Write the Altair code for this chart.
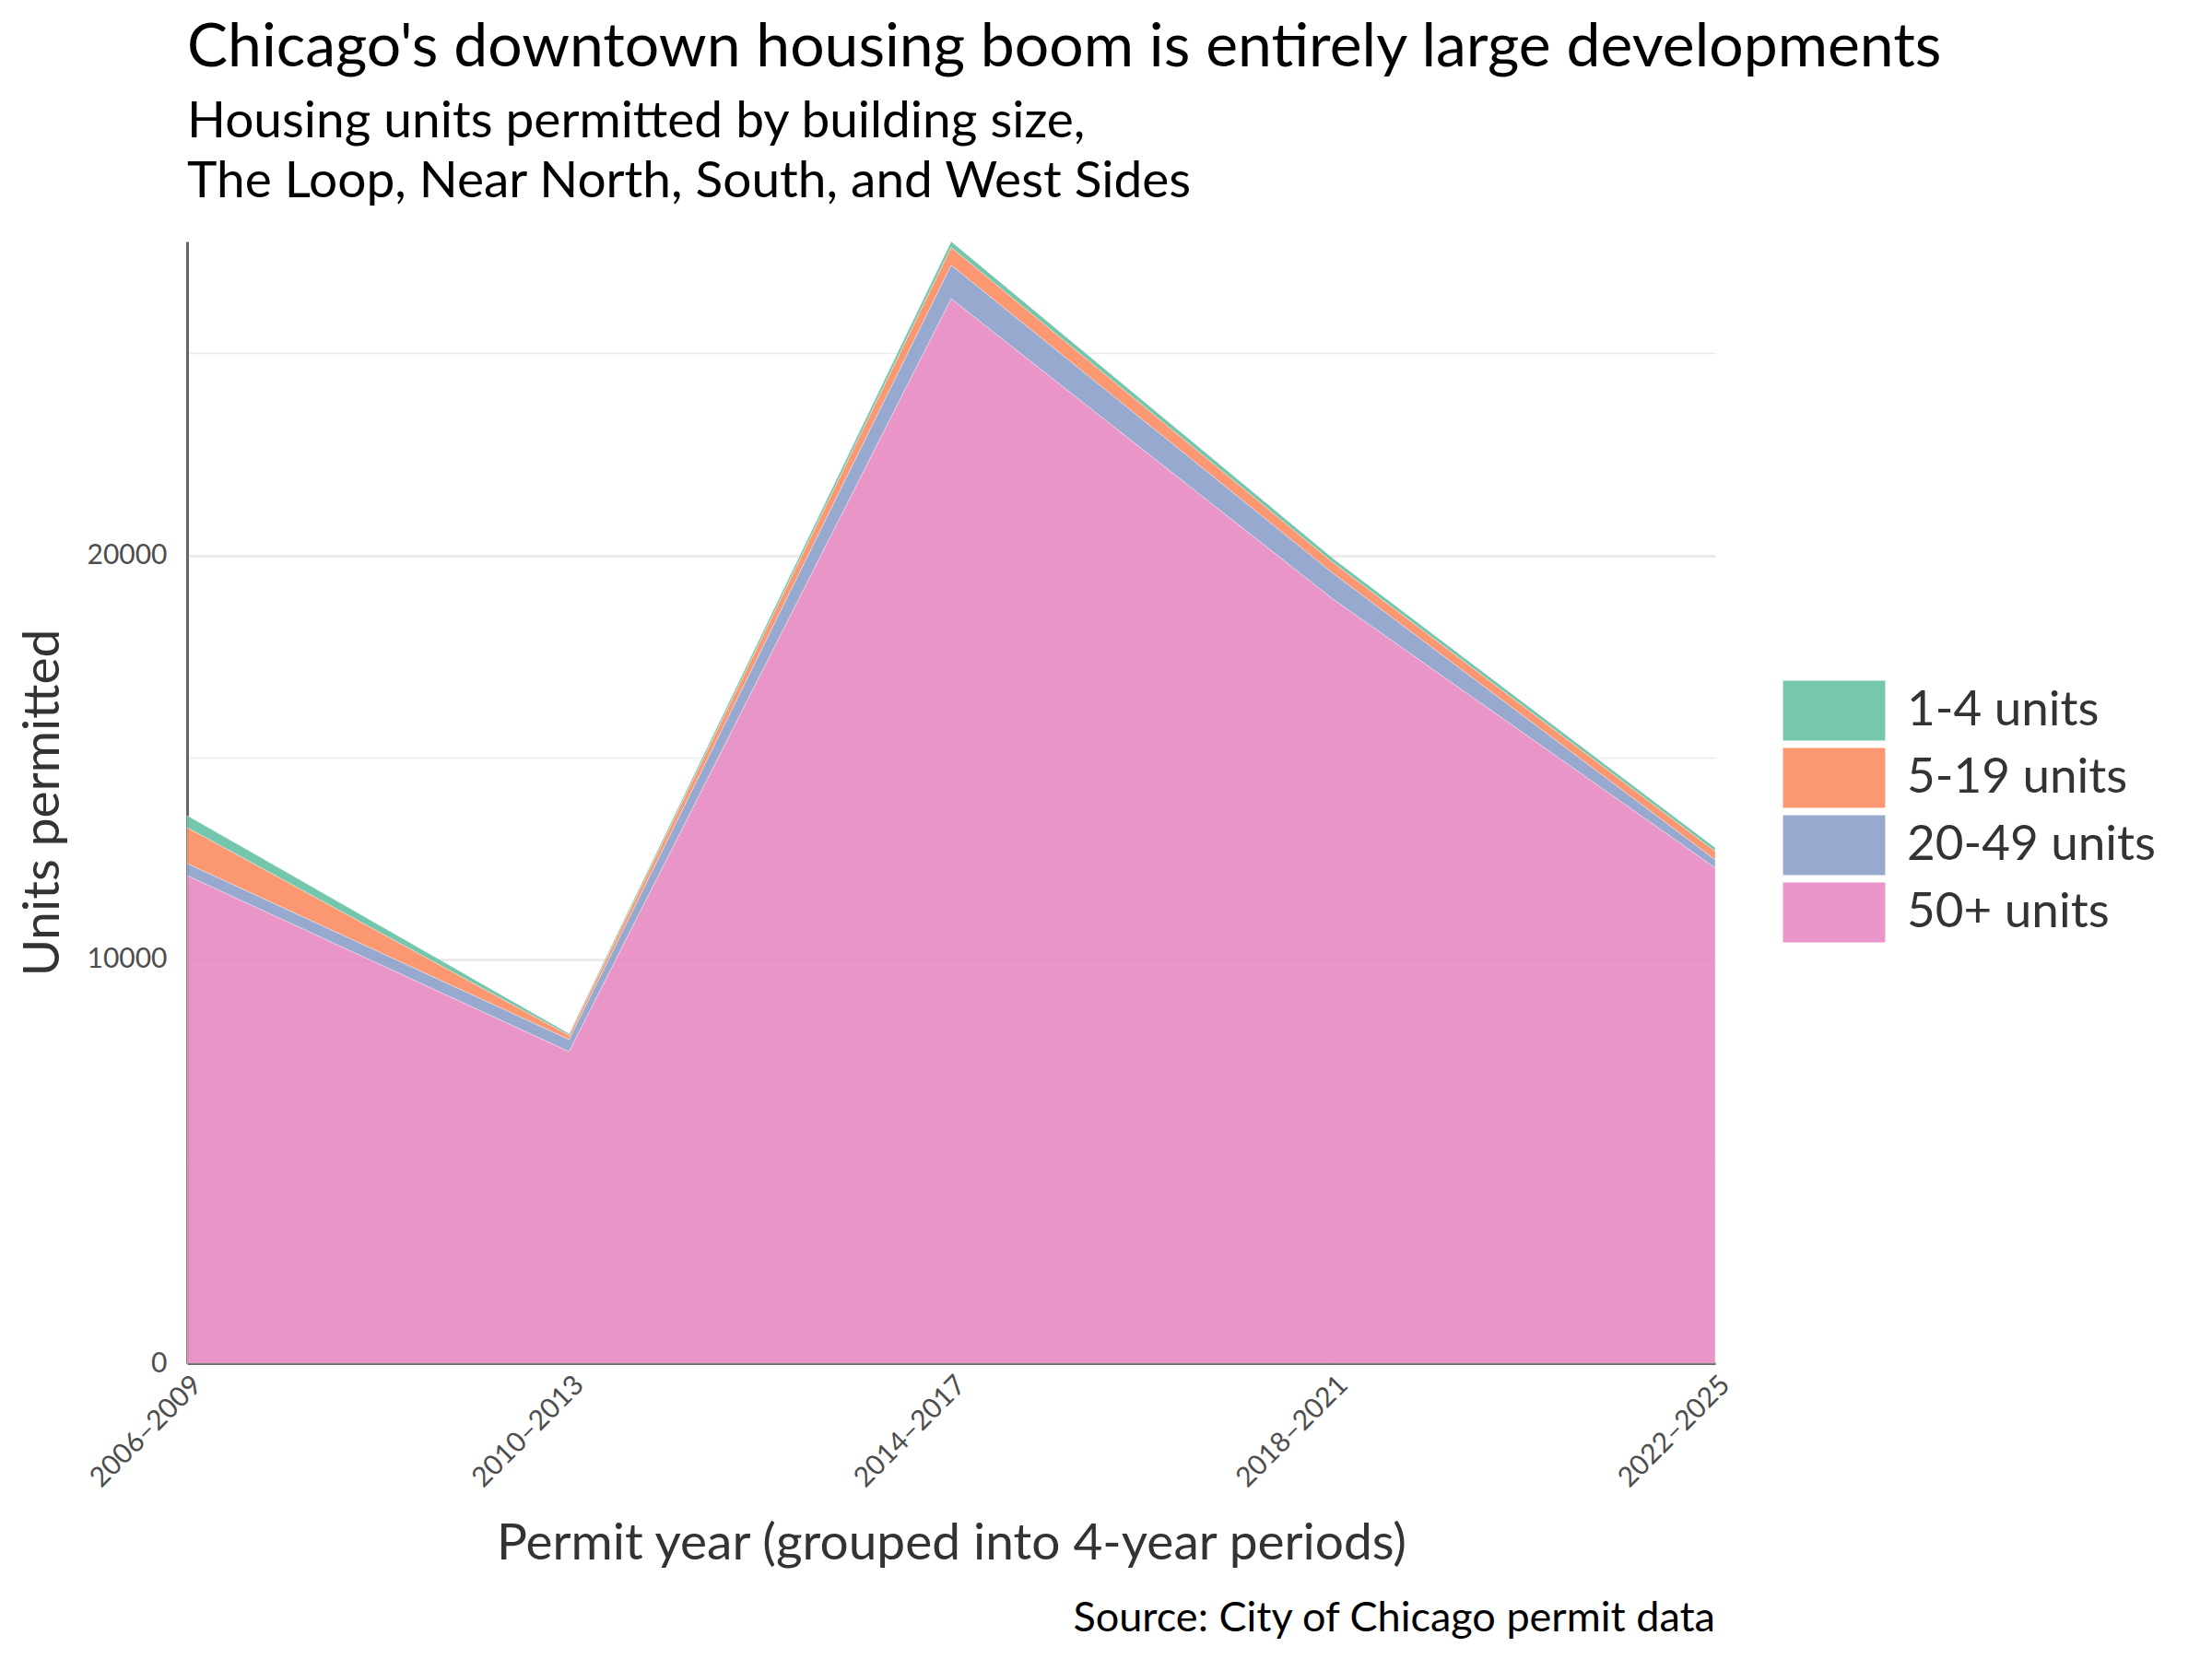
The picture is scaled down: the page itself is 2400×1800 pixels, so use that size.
import altair as alt
import pandas as pd

periods = ["2006–2009", "2010–2013", "2014–2017", "2018–2021", "2022–2025"]
sizes = ["1-4 units", "5-19 units", "20-49 units", "50+ units"]
units_1_4 = [300, 50, 150, 105, 90]
units_5_19 = [890, 100, 440, 265, 210]
units_20_49 = [300, 300, 830, 640, 200]
units_50_plus = [12070, 7710, 26350, 18910, 12260]
colors = ["#66c2a5", "#fc8d62", "#8da0cb", "#e78ac3"]

series = {"1-4 units": units_1_4, "5-19 units": units_5_19,
          "20-49 units": units_20_49, "50+ units": units_50_plus}
rows = []
for s_i, s in enumerate(sizes):
    for p, v in zip(periods, series[s]):
        rows.append({"period": p, "size": s, "units": v, "stack": len(sizes) - s_i})
df = pd.DataFrame(rows)

W, H = 1658, 1217
FONT = "Lato"

area = alt.Chart(df).mark_area(opacity=0.9, stroke="white", strokeWidth=0.6, strokeOpacity=0.6).encode(
    x=alt.X("period:O", sort=periods, scale=alt.Scale(padding=0),
            axis=alt.Axis(title="Permit year (grouped into 4-year periods)",
                          labelAngle=-45, labelAlign="right", labelBaseline="top",
                          labelPadding=8, ticks=False, grid=False,
                          titleX=W / 2, titleY=212, titleBaseline="alphabetic",
                          titleAlign="center")),
    y=alt.Y("units:Q", stack="zero", scale=alt.Scale(nice=False, zero=True),
            axis=alt.Axis(title="Units permitted",
                          values=[0, 5000, 10000, 15000, 20000, 25000],
                          labelExpr="datum.value % 10000 === 0 ? format(datum.value, 'd') : ''",
                          ticks=False, labelPadding=22, labelBaseline="middle",
                          gridWidth={"condition": {"test": "datum.value % 10000 === 0", "value": 3}, "value": 1.6},
                          titleX=-157, titleY=H / 2, titleAngle=270,
                          titleBaseline="middle", titleAlign="center")),
    color=alt.Color("size:N", sort=sizes,
                    scale=alt.Scale(domain=sizes, range=colors),
                    legend=alt.Legend(title=None, orient="none", legendX=W + 74, legendY=476,
                                      symbolType="M-1.68,-0.985H1.68V0.985H-1.68Z",
                                      symbolSize=66 * 66, symbolStrokeWidth=0,
                                      symbolOpacity=0.9, symbolOffset=22,
                                      labelOffset=46, rowPadding=7, padding=0,
                                      labelFontSize=53, labelFont=FONT,
                                      labelColor="#333333", labelLimit=600)),
    order=alt.Order("stack:Q", sort="ascending"),
)

caption = alt.Chart(pd.DataFrame({"caption": ["Source: City of Chicago permit data"]})).mark_text(
    align="right", baseline="alphabetic", fontSize=45, font=FONT, color="#000000"
).encode(text="caption:N", x=alt.value(W), y=alt.value(1508))

chart = alt.layer(area, caption).properties(
    width=W, height=H,
    autosize=alt.AutoSizeParams(type="none"),
    padding={"left": 195, "top": 254, "right": 531, "bottom": 313},
    title=alt.TitleParams(
        text="Chicago's downtown housing boom is entirely large developments",
        subtitle=["Housing units permitted by building size,",
                  "The Loop, Near North, South, and West Sides"],
        anchor="start", frame="group", font=FONT, fontSize=66, fontWeight="normal",
        color="#000000", subtitleFont=FONT, subtitleFontSize=55, subtitleColor="#000000",
        subtitlePadding=20, subtitleLineHeight=65, offset=35,
    ),
).configure_view(stroke=None).configure_axis(
    labelFont=FONT, labelFontSize=30, labelColor="#4d4d4d",
    titleFont=FONT, titleFontSize=55, titleColor="#333333", titleFontWeight="normal",
    domainColor="#666666", domainWidth=3, gridColor="#ebebeb",
).configure_axisX(domain=True).configure_axisY(domain=True)

chart.save("out.html", embed_options={"renderer": "svg", "actions": False})
